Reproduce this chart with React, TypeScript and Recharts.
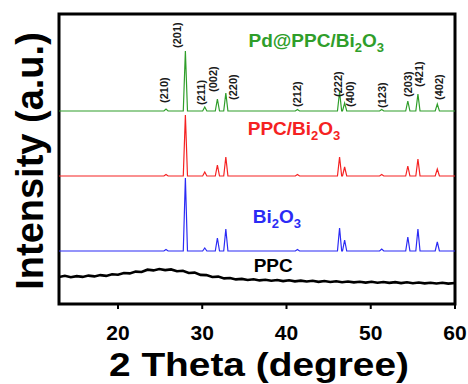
import React from 'react';
import { LineChart, Line, XAxis, YAxis, ReferenceArea, ReferenceDot } from 'recharts';

document.body.style.margin = '0';

const FONT = '"Liberation Sans", Arial, sans-serif';

// 2θ of the Bi2O3 reflections
const PEAK_POS = [25.7, 28.0, 30.3, 31.8, 32.8, 41.3, 46.3, 46.9, 51.3, 54.4, 55.6, 57.9];

// peak heights above each baseline (a.u.)
const PD_PPC_BI2O3 = [2, 60, 4, 12, 18, 1.5, 19, 8, 1.5, 10, 17, 7];
const PPC_BI2O3 = [1.5, 61, 4, 11, 19, 1.5, 19, 9, 1.5, 10, 17, 7];
const BI2O3 = [1.5, 73, 3, 13, 22, 1.5, 23, 11, 2, 14, 22, 9];

// vertical stacking offsets
const OFFSETS = { pd: 193, ppcBi: 128, bi: 53 };

// amorphous PPC trace [2θ, intensity]
const PPC_POINTS: [number, number][] = [
    [13.0, 27.0], [13.7, 28.2], [14.4, 26.8], [15.1, 27.9], [15.8, 27.1], [16.5, 28.4],
    [17.2, 27.6], [17.9, 28.9], [18.6, 28.1], [19.3, 29.7], [20.0, 29.2], [20.7, 31.0],
    [21.4, 30.6], [22.1, 32.4], [22.8, 32.0], [23.5, 34.3], [24.2, 33.6], [24.9, 35.0],
    [25.6, 33.9], [26.3, 34.6], [27.0, 32.8], [27.7, 33.2], [28.4, 31.0], [29.1, 31.4],
    [29.8, 29.1], [30.5, 28.9], [31.2, 27.0], [31.9, 27.4], [32.6, 25.6], [33.3, 26.0],
    [34.0, 24.6], [34.7, 25.1], [35.4, 24.0], [36.1, 24.8], [36.8, 23.6], [37.5, 24.3],
    [38.2, 23.2], [38.9, 24.0], [39.6, 22.9], [40.3, 23.7], [41.0, 22.6], [41.7, 23.4],
    [42.4, 22.5], [43.1, 23.2], [43.8, 22.1], [44.5, 23.0], [45.2, 22.0], [45.9, 22.8],
    [46.6, 21.7], [47.3, 22.5], [48.0, 21.6], [48.7, 22.3], [49.4, 21.4], [50.1, 22.2],
    [50.8, 21.3], [51.5, 22.0], [52.2, 21.1], [52.9, 21.9], [53.6, 20.9], [54.3, 21.7],
    [55.0, 20.8], [55.7, 21.5], [56.4, 20.6], [57.1, 21.3], [57.8, 20.5], [58.5, 21.2],
    [59.2, 20.4], [60.0, 21.0],
];

// Miller index labels
const HKL_LABELS = ['(210)', '(201)', '(211)', '(002)', '(220)', '(212)', '(222)', '(400)', '(123)', '(203)', '(421)', '(402)'];
const HKL_X = [25.5, 27.05, 29.8, 31.3, 33.6, 41.3, 46.1, 47.5, 51.3, 54.4, 55.7, 58.1];
const HKL_Y = [201, 256, 199, 212, 204, 197, 207, 197, 196, 207, 217, 204];

const X_TICKS = [20, 30, 40, 50, 60];

const GREEN = '#2f9e2a';
const RED = '#f52222';
const BLUE = '#2b2bf5';

const buildPattern = (heights: number[], offset: number) => {
    const pts = [{ x: 13, y: offset }];
    PEAK_POS.forEach((p, i) => {
        pts.push({ x: p - 0.25, y: offset }, { x: p, y: offset + heights[i] }, { x: p + 0.25, y: offset });
    });
    pts.push({ x: 60, y: offset });
    return pts;
};

const pdData = buildPattern(PD_PPC_BI2O3, OFFSETS.pd);
const ppcBiData = buildPattern(PPC_BI2O3, OFFSETS.ppcBi);
const biData = buildPattern(BI2O3, OFFSETS.bi);
const ppcData = PPC_POINTS.map(([x, y]) => ({ x, y }));

const SeriesName = ({ cx, cy, color, name, bi }: any) => (
    <text x={cx} y={cy} fill={color} fontFamily={FONT} fontWeight="bold" fontSize={19}>
        {name}
        {bi && (
            <>
                <tspan>Bi</tspan>
                <tspan fontSize={13} dy={5}>2</tspan>
                <tspan dy={-5}>O</tspan>
                <tspan fontSize={13} dy={5}>3</tspan>
            </>
        )}
    </text>
);

export default function App() {
    return (
        <LineChart width={468} height={384} margin={{ top: 14, right: 13, bottom: 0, left: 0 }}>
            <XAxis
                type="number"
                dataKey="x"
                domain={[13, 60]}
                ticks={X_TICKS}
                allowDataOverflow
                height={80}
                axisLine={false}
                tickLine={{ stroke: '#000', strokeWidth: 2 }}
                tickSize={5}
                tickMargin={16}
                tick={{ fill: '#000', fontSize: 21, fontWeight: 'bold', fontFamily: FONT }}
                label={{
                    content: ({ viewBox }: any) => (
                        <text
                            x={viewBox.x + viewBox.width / 2 + 2}
                            y={376}
                            textAnchor="middle"
                            textLength={300}
                            lengthAdjust="spacingAndGlyphs"
                            fontFamily={FONT}
                            fontWeight="bold"
                            fontSize={34}
                            fill="#000"
                        >
                            2 Theta (degree)
                        </text>
                    ),
                }}
            />
            <YAxis
                type="number"
                domain={[0, 290]}
                allowDataOverflow
                width={59}
                tick={false}
                axisLine={false}
                tickLine={false}
                label={{
                    content: () => (
                        <text
                            x={43}
                            y={161}
                            transform="rotate(-90 43 161)"
                            textAnchor="middle"
                            fontFamily={FONT}
                            fontWeight="bold"
                            fontSize={38}
                            fill="#000"
                        >
                            Intensity (a.u.)
                        </text>
                    ),
                }}
            />

            <Line data={pdData} dataKey="y" type="linear" stroke={GREEN} strokeWidth={1.2} dot={false} isAnimationActive={false} />
            <Line data={ppcBiData} dataKey="y" type="linear" stroke={RED} strokeWidth={1.2} dot={false} isAnimationActive={false} />
            <Line data={biData} dataKey="y" type="linear" stroke={BLUE} strokeWidth={1.2} dot={false} isAnimationActive={false} />
            <Line data={ppcData} dataKey="y" type="linear" stroke="#000" strokeWidth={2.6} dot={false} isAnimationActive={false} />

            {HKL_LABELS.map((lab, i) => (
                <ReferenceDot
                    key={lab}
                    x={HKL_X[i]}
                    y={HKL_Y[i]}
                    r={0}
                    ifOverflow="visible"
                    shape={(p: any) => (
                        <text
                            x={p.cx}
                            y={p.cy}
                            dy="0.36em"
                            transform={`rotate(-90 ${p.cx} ${p.cy})`}
                            fontFamily={FONT}
                            fontWeight="bold"
                            fontSize={11}
                            fill="#1a1a1a"
                        >
                            {lab}
                        </text>
                    )}
                />
            ))}

            <ReferenceDot x={35.5} y={257} r={0} ifOverflow="visible"
                shape={(p: any) => <SeriesName cx={p.cx} cy={p.cy} color={GREEN} name="Pd@PPC/" bi />} />
            <ReferenceDot x={35.4} y={169} r={0} ifOverflow="visible"
                shape={(p: any) => <SeriesName cx={p.cx} cy={p.cy} color={RED} name="PPC/" bi />} />
            <ReferenceDot x={36.0} y={81} r={0} ifOverflow="visible"
                shape={(p: any) => <SeriesName cx={p.cx} cy={p.cy} color={BLUE} name="" bi />} />
            <ReferenceDot x={36.1} y={32} r={0} ifOverflow="visible"
                shape={(p: any) => <SeriesName cx={p.cx} cy={p.cy} color="#000" name="PPC" />} />

            <ReferenceArea x1={13} x2={60} y1={0} y2={290} fill="none" stroke="#000" strokeWidth={3} ifOverflow="visible" />
        </LineChart>
    );
}
